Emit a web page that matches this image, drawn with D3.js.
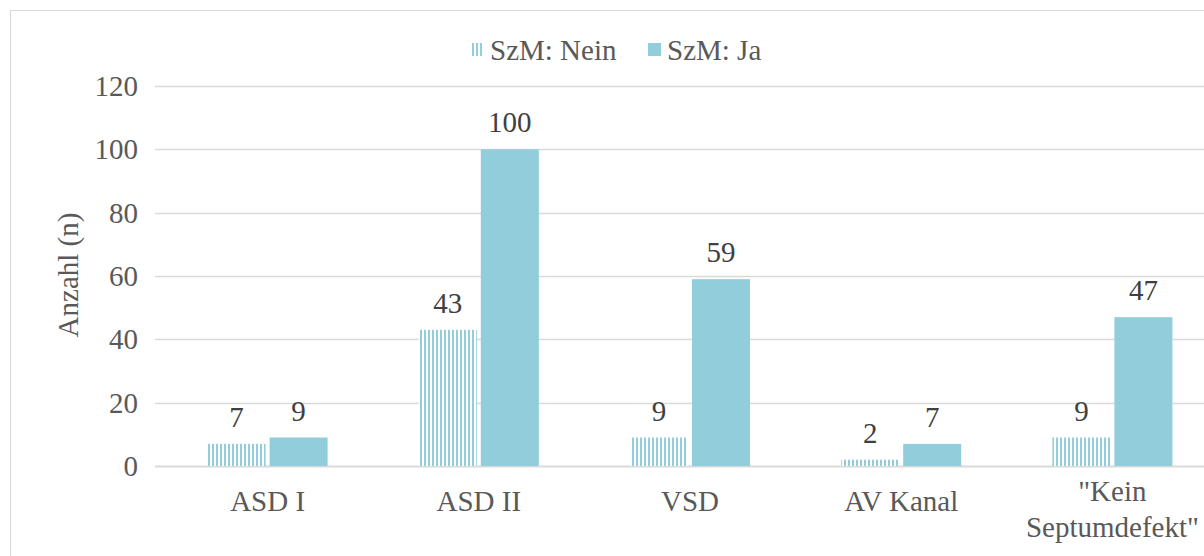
<!DOCTYPE html>
<html>
<head>
<meta charset="utf-8">
<script src="https://cdn.jsdelivr.net/npm/d3@7.9.0/dist/d3.min.js"></script>
</head>
<body style="margin:0">
<svg id="chart" width="1204" height="556" font-family="Times New Roman"></svg>
<script>
const categories = ['ASD I', 'ASD II', 'VSD', 'AV Kanal', '"Kein Septumdefekt"'];
const seriesNames = ['SzM: Nein', 'SzM: Ja'];
const neinValues = [7, 43, 9, 2, 9];
const jaValues = [9, 100, 59, 7, 47];
const yTicks = [0, 20, 40, 60, 80, 100, 120];

const color = '#92cddc';
const textColor = '#595959';
const gridColor = '#d9d9d9';
const fs = 29;
const serifFont = "'Times New Roman', 'Liberation Serif', Tinos, serif";

const svg = d3.select('#chart');
const margin = { left: 162, right: -14, top: 86, bottom: 90 };
const width = 1204, height = 556;

// chart frame
svg.append('rect')
    .attr('x', 10.5).attr('y', 10.5)
    .attr('width', 1220).attr('height', 600)
    .attr('fill', 'none').attr('stroke', gridColor);

const defs = svg.append('defs');
const pat = defs.append('pattern')
    .attr('id', 'stripes')
    .attr('patternUnits', 'userSpaceOnUse')
    .attr('width', 4).attr('height', 4);
pat.append('rect').attr('width', 4).attr('height', 4).attr('fill', '#fff');
pat.append('rect').attr('width', 2).attr('height', 4).attr('fill', color);

const x = d3.scaleBand()
    .domain(categories)
    .range([margin.left, width - margin.right]);

const y = d3.scaleLinear()
    .domain([0, 120])
    .range([height - margin.bottom, margin.top]);

// gridlines
svg.append('g')
    .selectAll('line')
    .data(yTicks)
    .join('line')
    .attr('x1', margin.left - 7)
    .attr('x2', width)
    .attr('y1', d => Math.round(y(d)) + 0.5)
    .attr('y2', d => Math.round(y(d)) + 0.5)
    .attr('stroke', gridColor)
    .attr('stroke-width', d => d === 0 ? 2 : 1.3);

function label(sel) {
    return sel.attr('font-size', fs)
        .attr('font-family', serifFont)
        .style('font-family', serifFont);
}

// y tick labels
svg.append('g')
    .selectAll('text')
    .data(yTicks)
    .join('text')
    .attr('x', 138)
    .attr('y', d => y(d) + 10)
    .attr('text-anchor', 'end')
    .attr('fill', textColor)
    .call(label)
    .text(d => d);

// y axis title
svg.append('text')
    .attr('transform', `translate(78, ${y(60) - 1}) rotate(-90)`)
    .attr('text-anchor', 'middle')
    .attr('fill', textColor)
    .call(label)
    .text('Anzahl (n)');

const barW = 58, gap = 4;
const series = [neinValues, jaValues];

series.forEach((vals, si) => {
    const g = svg.append('g');
    g.selectAll('rect')
        .data(categories)
        .join('rect')
        .attr('x', (d, i) => x(d) + x.bandwidth() / 2 - barW - gap / 2 + si * (barW + gap))
        .attr('y', (d, i) => y(vals[i]))
        .attr('width', barW)
        .attr('height', (d, i) => y(0) - y(vals[i]))
        .attr('fill', si === 0 ? 'url(#stripes)' : color);

    g.selectAll('text')
        .data(categories)
        .join('text')
        .attr('x', (d, i) => x(d) + x.bandwidth() / 2 - barW / 2 - gap / 2 + si * (barW + gap))
        .attr('y', (d, i) => y(vals[i]) - 17)
        .attr('text-anchor', 'middle')
        .attr('fill', '#404040')
        .call(label)
        .text((d, i) => vals[i]);
});

// category labels
const catLines = {
    '"Kein Septumdefekt"': ['"Kein', 'Septumdefekt"']
};
svg.append('g')
    .selectAll('text')
    .data(categories)
    .join('text')
    .attr('x', d => x(d) + x.bandwidth() / 2)
    .attr('y', 511)
    .attr('text-anchor', 'middle')
    .attr('fill', textColor)
    .call(label)
    .each(function (d) {
        const lines = catLines[d] || [d];
        d3.select(this).selectAll('tspan')
            .data(lines)
            .join('tspan')
            .attr('x', x(d) + x.bandwidth() / 2)
            .attr('dy', (l, i) => lines.length > 1 ? (i === 0 ? -10 : 36) : 0)
            .text(l => l);
    });

// legend
const legend = svg.append('g');
const legendItems = [
    { name: seriesNames[0], fill: 'url(#stripes)', x: 471 },
    { name: seriesNames[1], fill: color, x: 648 }
];
legendItems.forEach(it => {
    legend.append('rect')
        .attr('x', it.x).attr('y', 43)
        .attr('width', 13).attr('height', 13)
        .attr('fill', it.fill);
    legend.append('text')
        .attr('x', it.x + 19).attr('y', 60)
        .attr('fill', textColor)
        .call(label)
        .text(it.name);
});
</script>
</body>
</html>
